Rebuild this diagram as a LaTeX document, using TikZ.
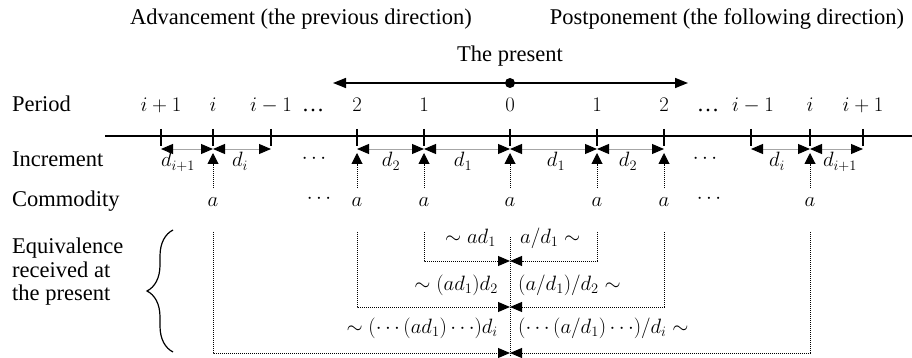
\documentclass[tikz,border=0pt]{standalone}
\usepackage{fontspec}
\setmainfont{Liberation Serif}
\usetikzlibrary{arrows.meta,decorations.pathreplacing}
\begin{document}
\begin{tikzpicture}[x=1pt,y=-1pt,
  lbl/.style={font=\fontsize{22.5}{24}\selectfont, inner sep=0pt, anchor=base},
  lblw/.style={lbl, anchor=base west},
  lble/.style={lbl, anchor=base east},
  tickst/.style={line width=1.6pt},
  mainline/.style={line width=1.5pt},
  toparr/.style={line width=1.5pt, {Triangle[length=13pt,width=10pt]}-{Triangle[length=13pt,width=10pt]}},
  incr/.style={draw=gray!70, line width=0.9pt,
     {Triangle[length=12pt,width=10pt,color=black]}-{Triangle[length=12pt,width=10pt,color=black]}},
  uparr/.style={densely dotted, line width=1pt, -{Triangle[length=11pt,width=11pt]}},
  brk/.style={densely dotted, line width=1pt, -{Triangle[length=12pt,width=10pt]}},
  dotln/.style={densely dotted, line width=1pt}
]
\useasboundingbox (0,0) rectangle (912,358);

% headings
\node[lbl] (adv) at (301,25) {Advancement (the previous direction)};
\node[lbl] (post) at (727,25) {Postponement (the following direction)};
\node[lbl] (present) at (510,62) {The present};

% top arrow
\coordinate (arL) at (333,83);
\coordinate (arR) at (688,83);
\draw[toparr] (arL) -- (arR);
\node[circle, fill=black, inner sep=0pt, minimum size=10pt] (dot) at (510,83) {};

% tick positions
\foreach \n/\x in {li1/161, li/213, lim/271, l2/357, l1/424, 0/510, r1/597, r2/664, rim/751, ri/810, ri1/863}{
  \coordinate (t-\n) at (\x,136);
  \coordinate (i-\n) at (\x,149);
}

% row labels
\node[lblw] (period) at (12,112) {Period};
\node[lblw] (increment) at (12,167) {Increment};
\node[lblw] (commodity) at (12,207) {Commodity};
\node[font=\fontsize{22.5}{23.5}\selectfont, inner sep=0pt, align=left, anchor=west] (equiv) at (12,272)
  {Equivalence\\received at\\the present};

% period labels
\node[lbl] (p-li1) at (161,112) {$i+1$};
\node[lbl] (p-li) at (213,112) {$i$};
\node[lbl] (p-lim) at (271,112) {$i-1$};
\node[lbl] (p-ld) at (313,112) {\ldots};
\node[lbl] (p-l2) at (357,112) {$2$};
\node[lbl] (p-l1) at (424,112) {$1$};
\node[lbl] (p-0) at (510,112) {$0$};
\node[lbl] (p-r1) at (597,112) {$1$};
\node[lbl] (p-r2) at (664,112) {$2$};
\node[lbl] (p-rd) at (708,112) {\ldots};
\node[lbl] (p-rim) at (753,112) {$i-1$};
\node[lbl] (p-ri) at (810,112) {$i$};
\node[lbl] (p-ri1) at (863,112) {$i+1$};

% main timeline and ticks
\coordinate (lineL) at (105,136);
\coordinate (lineR) at (912,136);
\draw[mainline] (lineL) -- (lineR);
\foreach \n in {li1, li, lim, l2, l1, 0, r1, r2, rim, ri, ri1}{
  \draw[tickst] ([yshift=7pt]t-\n) -- ([yshift=-10pt]t-\n);
}

% increment arrows
\draw[incr] (i-li1) -- (i-li);
\draw[incr] (i-li) -- (i-lim);
\draw[incr] (i-l2) -- (i-l1);
\draw[incr] (i-l1) -- (i-0);
\draw[incr] (i-0) -- (i-r1);
\draw[incr] (i-r1) -- (i-r2);
\draw[incr] (i-rim) -- (i-ri);
\draw[incr] (i-ri) -- (i-ri1);

% increment labels
\node[lbl] (d-li1) at (178,167) {$d_{i+1}$};
\node[lbl] (d-li) at (240,167) {$d_i$};
\node[lbl] (d-ld) at (314,164) {$\cdots$};
\node[lbl] (d-l2) at (391,167) {$d_2$};
\node[lbl] (d-l1) at (463,167) {$d_1$};
\node[lbl] (d-r1) at (556,167) {$d_1$};
\node[lbl] (d-r2) at (628,167) {$d_2$};
\node[lbl] (d-rd) at (705,164) {$\cdots$};
\node[lbl] (d-ri) at (777,167) {$d_i$};
\node[lbl] (d-ri1) at (840,167) {$d_{i+1}$};

% commodity labels
\foreach \n/\x in {li/213, l2/357, l1/424, 0/510, r1/597, r2/664, ri/810}{
  \node[lbl] (c-\n) at (\x,207) {$a$};
  \draw[uparr] ([yshift=19pt]c-\n.base) -- ([yshift=-4pt]i-\n);
}
\node[lbl] (c-ld) at (319,204) {$\cdots$};
\node[lbl] (c-rd) at (709,204) {$\cdots$};

% brace
\draw[decorate, decoration={brace, amplitude=26pt}, line width=1.2pt] (173,352) -- (173,230);

% equivalence brackets
\coordinate (m1) at (510,261);
\coordinate (m2) at (510,307);
\coordinate (m3) at (510,353);
\coordinate (mtop) at (510,237);
\draw[dotln] (mtop) -- ([yshift=-3pt]m3);
\draw[brk] ([yshift=-25pt]c-l1.base) |- (m1);
\draw[brk] ([yshift=-25pt]c-r1.base) |- (m1);
\draw[brk] ([yshift=-25pt]c-l2.base) |- (m2);
\draw[brk] ([yshift=-25pt]c-r2.base) |- (m2);
\draw[brk] ([yshift=-25pt]c-li.base) |- (m3);
\draw[brk] ([yshift=-25pt]c-ri.base) |- (m3);

% equivalence labels
\node[lble] (e1l) at (496,243) {$\sim ad_1$};
\node[lblw] (e1r) at (520,243) {$a/d_1\sim$};
\node[lble] (e2l) at (498,290) {$\sim(ad_1)d_2$};
\node[lblw] (e2r) at (518,290) {$(a/d_1)/d_2\sim$};
\node[lble] (e3l) at (498,333) {$\sim(\cdots(ad_1)\cdots)d_i$};
\node[lblw] (e3r) at (518,333) {$(\cdots(a/d_1)\cdots)/d_i\sim$};
\end{tikzpicture}
\end{document}
